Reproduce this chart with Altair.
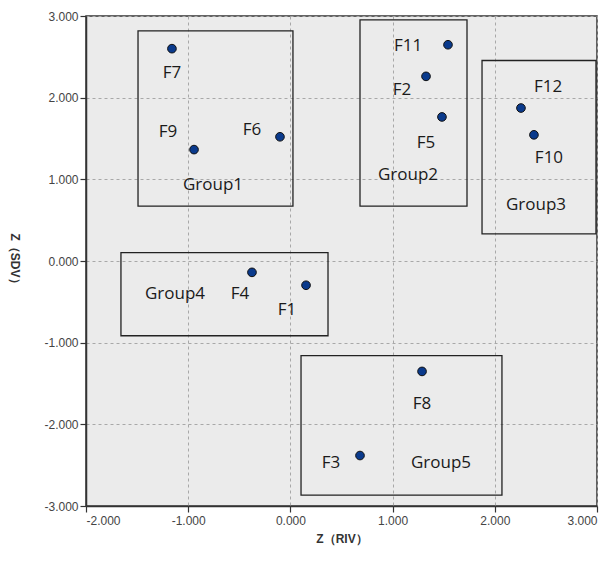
import altair as alt
import pandas as pd

# Points
pt_names = ["F7", "F9", "F6", "F11", "F2", "F5", "F12", "F10", "F4", "F1", "F8", "F3"]
pt_x = [-1.159, -0.943, -0.102, 1.542, 1.327, 1.483, 2.256, 2.383, -0.376, 0.153, 1.288, 0.681]
pt_y = [2.600, 1.364, 1.521, 2.648, 2.261, 1.764, 1.873, 1.545, -0.139, -0.297, -1.352, -2.382]

# Text labels
lbl_text = ["F7", "F9", "F6", "Group1", "F11", "F2", "F5", "Group2", "F12", "F10", "Group3",
            "Group4", "F4", "F1", "F8", "F3", "Group5"]
lbl_x = [-1.159, -1.198, -0.376, -0.757, 1.151, 1.092, 1.327, 1.151, 2.521, 2.530, 2.403,
         -1.129, -0.493, -0.033, 1.288, 0.397, 1.474]
lbl_y = [2.297, 1.582, 1.606, 0.927, 2.636, 2.091, 1.448, 1.048, 2.127, 1.267, 0.685,
         -0.406, -0.406, -0.600, -1.752, -2.479, -2.479]

# Group boxes
grp_names = ["Group1", "Group2", "Group3", "Group4", "Group5"]
grp_x1 = [-1.491, 0.681, 1.875, -1.658, 0.104]
grp_x2 = [0.025, 1.728, 2.990, 0.368, 2.070]
grp_y1 = [0.673, 0.673, 0.333, -0.915, -2.867]
grp_y2 = [2.818, 2.952, 2.455, 0.103, -1.158]

ticks_x = [-2, -1, 0, 1, 2, 3]
ticks_y = [-3, -2, -1, 0, 1, 2, 3]

pts = pd.DataFrame({"name": pt_names, "x": pt_x, "y": pt_y})
lbls = pd.DataFrame({"text": lbl_text, "x": lbl_x, "y": lbl_y})
grps = pd.DataFrame({"g": grp_names, "x1": grp_x1, "x2": grp_x2, "y1": grp_y1, "y2": grp_y2})

xs = alt.Scale(domain=[-2, 3], nice=False, zero=False)
ys = alt.Scale(domain=[-3, 3], nice=False, zero=False)

label_expr = "datum.value < 0 ? '-' + format(-datum.value, '.3f') : format(datum.value, '.3f')"

axis_common = dict(
    labelExpr=label_expr, grid=True, gridDash=[3, 3], gridColor="#a8a8a8", gridWidth=1,
    domainColor="#333333", domainWidth=1.5, tickColor="#333333", tickSize=6, tickWidth=1.2,
    labelFont="Liberation Sans", labelFontSize=12, labelColor="#444444",
    titleFont="Liberation Sans", titleFontSize=12, titleFontWeight="bold", titleColor="#333333",
)

xaxis = alt.Axis(values=ticks_x, title="Z（RIV）", titlePadding=7, labelPadding=3, **axis_common)
yaxis = alt.Axis(values=ticks_y, title="Z（SDV）", titleAngle=90, titlePadding=36, labelPadding=2, **axis_common)

boxes = alt.Chart(grps).mark_rect(fill=None, stroke="#222222", strokeWidth=1.3).encode(
    x=alt.X("x1:Q", scale=xs, axis=xaxis),
    x2="x2:Q",
    y=alt.Y("y1:Q", scale=ys, axis=yaxis),
    y2="y2:Q",
)

points = alt.Chart(pts).mark_point(filled=True, size=75, color="#0a3a8c", stroke="#111111",
                                   strokeWidth=1, opacity=1).encode(
    x=alt.X("x:Q", scale=xs),
    y=alt.Y("y:Q", scale=ys),
)

texts = alt.Chart(lbls).mark_text(font="Open Sans", fontSize=17, color="#1a1a1a",
                                  align="center", baseline="middle").encode(
    x=alt.X("x:Q", scale=xs),
    y=alt.Y("y:Q", scale=ys),
    text="text:N",
)

chart = alt.layer(boxes, points, texts).properties(
    width=511, height=490,
    autosize=alt.AutoSizeParams(type="none"),
    padding={"left": 78, "top": 8, "right": 4, "bottom": 44},
    background="white",
).configure_view(fill="#ebebeb", stroke="#333333", strokeWidth=1.5)

chart.save("out.html", embed_options={"renderer": "svg", "actions": False})
